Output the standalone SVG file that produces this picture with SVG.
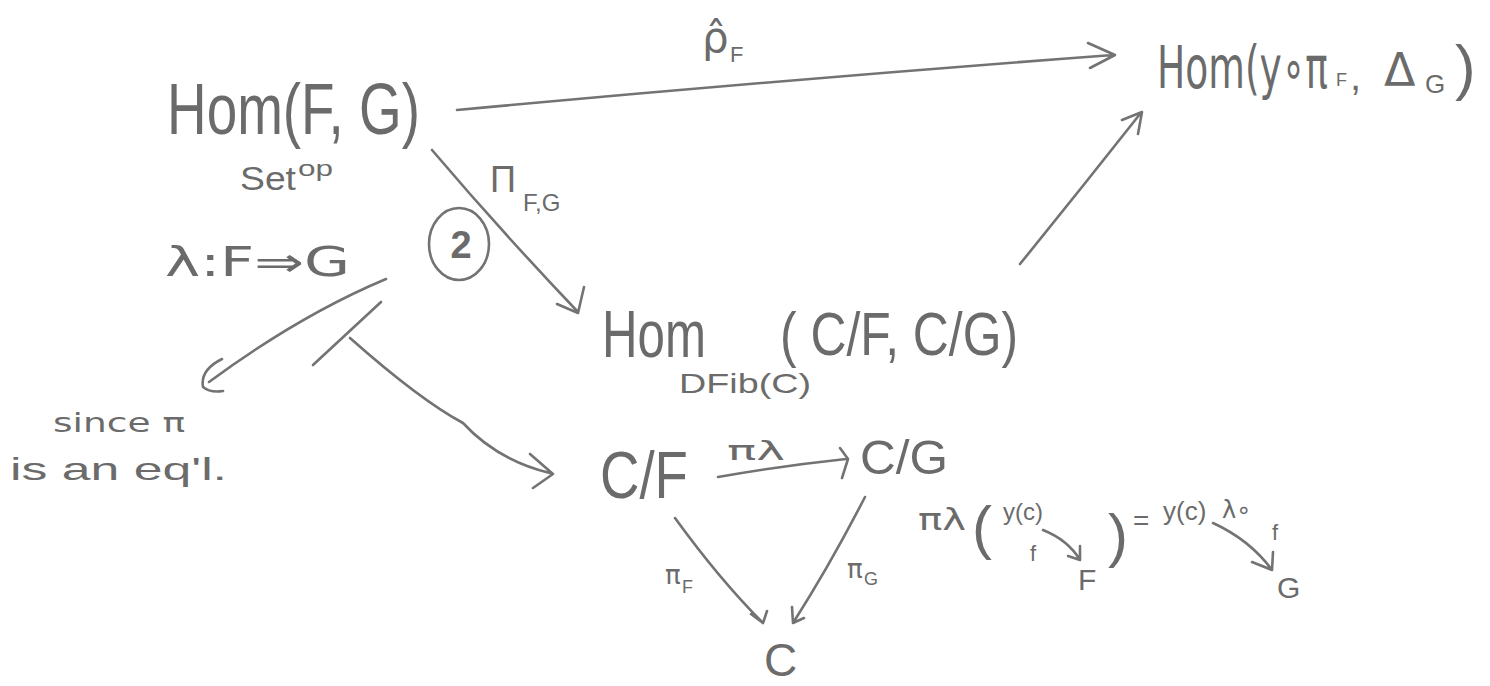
<svg xmlns="http://www.w3.org/2000/svg" width="1490" height="686" viewBox="0 0 1490 686">
<style>
.t{font-family:"Liberation Sans","DejaVu Sans",sans-serif;fill:#6b6b6b}
.g{font-family:"DejaVu Sans","Liberation Sans",sans-serif;fill:#6b6b6b}
.c{fill:none;stroke:#737373;stroke-width:2.6;stroke-linecap:round;stroke-linejoin:round}
</style>
<rect width="1490" height="686" fill="#ffffff"/>
<g id="homFG">
<text class="t" x="167" y="134" font-size="72" textLength="253" lengthAdjust="spacingAndGlyphs">Hom(F, G)</text>
<text class="t" x="240" y="190" font-size="34" textLength="56" lengthAdjust="spacingAndGlyphs">Set</text>
<text class="t" x="298" y="176" font-size="22" textLength="35" lengthAdjust="spacingAndGlyphs">op</text>
</g>
<g id="homY">
<text class="g" x="1157" y="88" font-size="58" textLength="171" lengthAdjust="spacingAndGlyphs">Hom(y∘π</text>
<text class="t" y="88"><tspan x="1336" y="86" font-size="18">F</tspan><tspan x="1350" y="90" font-size="40">,</tspan><tspan class="g" x="1384" y="86" font-size="46">Δ</tspan><tspan x="1425" y="93" font-size="26">G</tspan><tspan x="1455" y="88" font-size="62">)</tspan></text>
</g>
<g id="homDFib">
<text class="t" x="602" y="357" font-size="66" textLength="104" lengthAdjust="spacingAndGlyphs">Hom</text>
<text class="t" x="679" y="393" font-size="28" textLength="132" lengthAdjust="spacingAndGlyphs">DFib(C)</text>
<text class="t" x="780" y="355" font-size="62" textLength="238" lengthAdjust="spacingAndGlyphs">( C/F, C/G)</text>
</g>
<g id="lambda">
<text class="g" x="165" y="276" font-size="40" textLength="185" lengthAdjust="spacingAndGlyphs">λ:F⇒G</text>
</g>
<g id="circled2">
<ellipse class="c" cx="459" cy="244" rx="30" ry="36"/>
<text class="t" x="461" y="258" font-size="38" font-weight="bold" text-anchor="middle">2</text>
</g>
<g id="since">
<text class="g" x="53" y="432" font-size="26" textLength="132" lengthAdjust="spacingAndGlyphs">since π</text>
<text class="t" x="10" y="480" font-size="32" textLength="217" lengthAdjust="spacingAndGlyphs">is an eq'l.</text>
</g>
<g id="CF">
<text class="t" x="600" y="498" font-size="66" textLength="88" lengthAdjust="spacingAndGlyphs">C/F</text>
</g>
<g id="CG">
<text class="t" x="860" y="474" font-size="48" textLength="88" lengthAdjust="spacingAndGlyphs">C/G</text>
</g>
<g id="C">
<text class="t" x="764" y="676" font-size="46">C</text>
</g>
<g id="equation">
<text class="g" x="918" y="530" font-size="30" textLength="48" lengthAdjust="spacingAndGlyphs">πλ</text>
<text class="t" x="972" y="548" font-size="60">(</text>
<text class="t" x="1003" y="520" font-size="24">y(c)</text>
<text class="t" x="1030" y="561" font-size="22">f</text>
<text class="t" x="1078" y="590" font-size="30">F</text>
<text class="t" x="1108" y="556" font-size="60">)</text>
<text class="t" x="1133" y="530" font-size="28">=</text>
<text class="t" x="1163" y="520" font-size="26">y(c)</text>
<text class="g" x="1222" y="518" font-size="24">λ∘</text>
<text class="t" x="1272" y="540" font-size="22">f</text>
<text class="t" x="1277" y="598" font-size="30">G</text>
<path class="c" d="M1043 530 Q1068 540 1080 560 M1068 556 L1080 560 L1080 546"/>
<path class="c" d="M1213 523 Q1250 540 1272 570 M1252 562 L1272 570 L1273 552"/>
</g>
<g id="connectors">
<text class="g" x="702" y="52" font-size="42">ρ̂</text>
<text class="t" x="730" y="62" font-size="22">F</text>
<path class="c" d="M457 110 Q780 80 1113 55 M1088 43 L1115 55 L1090 68"/>
<text class="t" x="490" y="192" font-size="36">Π</text>
<text class="t" x="523" y="211" font-size="24">F,G</text>
<path class="c" d="M432 150 Q500 230 578 312 M557 304 L578 313 L584 287"/>
<path class="c" d="M1020 264 Q1080 190 1140 114 M1122 120 L1142 112 L1138 134"/>
<path class="c" d="M386 279 Q300 315 209 382 M222 359 Q200 370 203 387 Q210 393 223 391"/>
<path class="c" d="M381 302 L313 365"/>
<path class="c" d="M350 338 Q420 400 463 423 Q497 460 550 473 M530 454 L553 474 L533 488"/>
<path class="c" d="M718 477 Q780 466 846 459 M840 448 L848 459 L842 478"/>
<text class="g" x="727" y="460" font-size="26" textLength="58" lengthAdjust="spacingAndGlyphs">πλ</text>
<path class="c" d="M675 518 Q720 580 763 623 M751 614 L763 623 M767 611 L763 623"/>
<text class="g" x="665" y="584" font-size="26">π</text>
<text class="t" x="682" y="593" font-size="18">F</text>
<path class="c" d="M865 497 Q830 565 793 623 M792 607 L793 623 L804 618"/>
<text class="g" x="847" y="578" font-size="26">π</text>
<text class="t" x="864" y="585" font-size="18">G</text>
</g>
</svg>
